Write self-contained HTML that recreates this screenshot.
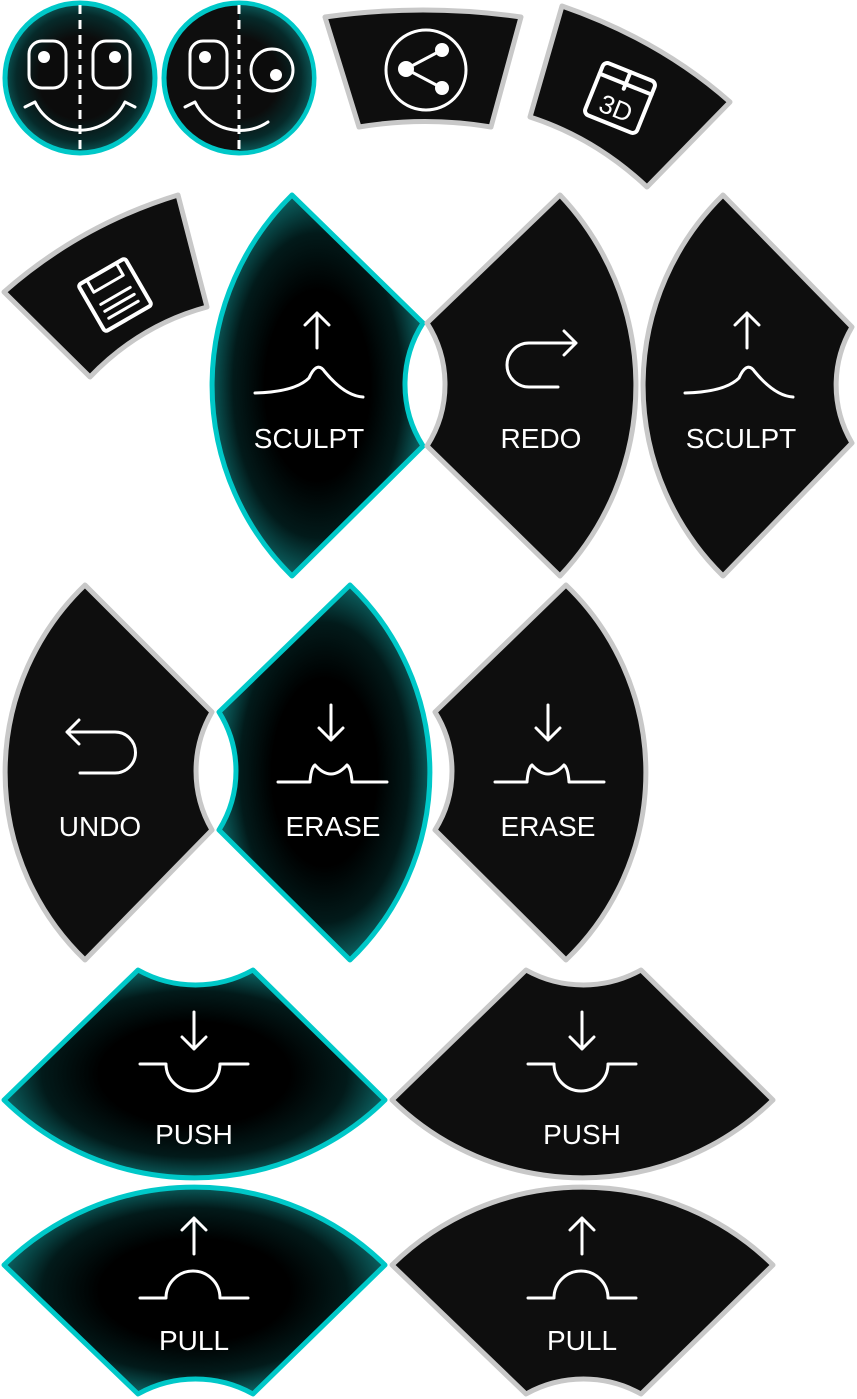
<!DOCTYPE html>
<html><head><meta charset="utf-8"><style>html,body{margin:0;padding:0;background:#fff}svg{display:block}</style></head>
<body>
<svg width="857" height="1399" viewBox="0 0 857 1399" xmlns="http://www.w3.org/2000/svg">
<defs>
<radialGradient id="hl" cx="0.5" cy="0.5" r="0.5">
<stop offset="0.5" stop-color="#000"/><stop offset="0.8" stop-color="#021a1a"/><stop offset="1" stop-color="#0a5a5a"/>
</radialGradient>
<radialGradient id="fc" cx="0.5" cy="0.5" r="0.5">
<stop offset="0.55" stop-color="#0c0c0c"/><stop offset="0.85" stop-color="#062a2a"/><stop offset="1" stop-color="#0b5252"/>
</radialGradient>
<clipPath id="rh"><rect x="239" y="0" width="90" height="160"/></clipPath>
</defs>
<g stroke-linejoin="round" stroke-width="5">
<circle cx="80" cy="78" r="75" fill="url(#fc)" stroke="#00c8c8"/>
<circle cx="239" cy="78" r="75" fill="#0e0e0e" stroke="#00c8c8"/>
<circle cx="239" cy="78" r="73" fill="url(#fc)" stroke="none" clip-path="url(#rh)"/>
<path d="M325,17 Q423,3 521,17 L491,127 Q425,116 359,127 Z" fill="#0e0e0e" stroke="#c8c8c8"/>
<path d="M562,6 Q660,40 730,102 L647,187 Q595,138 530,117 Z" fill="#0e0e0e" stroke="#c8c8c8"/>
<path d="M4,292 Q80,225 178,195 L207,307 Q140,325 90,377 Z" fill="#0e0e0e" stroke="#c8c8c8"/>
<path d="M292,195 L423,323 A114,114 0 0 0 423,446 L292,576 A267,267 0 0 1 292,195 Z" fill="url(#hl)" stroke="#00c8c8"/>
<path d="M560,195 A277,277 0 0 1 560,576 L427,446 A114,114 0 0 0 427,323 Z" fill="#0e0e0e" stroke="#c8c8c8"/>
<path d="M723,195 L852,327 A114,114 0 0 0 852,443 L723,576 A267,267 0 0 1 723,195 Z" fill="#0e0e0e" stroke="#c8c8c8"/>
<path d="M85,585 L212,712 A117,117 0 0 0 212,830 L85,960 A260,260 0 0 1 85,585 Z" fill="#0e0e0e" stroke="#c8c8c8"/>
<path d="M350,585 A260,260 0 0 1 350,960 L219,830 A111,111 0 0 0 219,712 Z" fill="url(#hl)" stroke="#00c8c8"/>
<path d="M566,585 A260,260 0 0 1 566,960 L435,830 A111,111 0 0 0 435,712 Z" fill="#0e0e0e" stroke="#c8c8c8"/>
<path d="M138,970 A118,118 0 0 0 253,970 L385,1100 A272,272 0 0 1 4,1100 Z" fill="url(#hl)" stroke="#00c8c8"/>
<path d="M526,970 A118,118 0 0 0 641,970 L773,1100 A272,272 0 0 1 392,1100 Z" fill="#0e0e0e" stroke="#c8c8c8"/>
<path d="M4,1265 A272,272 0 0 1 385,1265 L253,1394 A118,118 0 0 0 138,1394 Z" fill="url(#hl)" stroke="#00c8c8"/>
<path d="M392,1265 A272,272 0 0 1 773,1265 L641,1394 A118,118 0 0 0 526,1394 Z" fill="#0e0e0e" stroke="#c8c8c8"/>
</g>
<g fill="none" stroke="#fff" stroke-width="3" stroke-linecap="round" stroke-linejoin="round">
<line x1="80" y1="5" x2="80" y2="153" stroke-dasharray="9 6" stroke-linecap="butt"/>
<line x1="239" y1="5" x2="239" y2="153" stroke-dasharray="9 6" stroke-linecap="butt"/>
<rect x="29" y="41" width="37" height="47" rx="13"/><rect x="93" y="41" width="37" height="47" rx="13"/>
<path d="M25,107 L35,102 A50,50 0 0 0 125,102 L135,107"/>
<rect x="190" y="41" width="37" height="47" rx="13"/><circle cx="272" cy="70" r="21"/>
<path d="M185,107 L195,102 A50,50 0 0 0 268,122"/>
<circle cx="426" cy="70" r="40"/>
<path d="M406,69 L442,50 M406,69 L442,88"/>
<path d="M317,313 V348 M305,325 L317,313 L329,325"/>
<path d="M255,393 Q295,392 309,378 Q317,360 325,372 Q345,396 363,397"/>
<path d="M747,313 V348 M735,325 L747,313 L759,325"/>
<path d="M685,393 Q725,392 739,378 Q747,360 755,372 Q775,396 793,397"/>
<path d="M558,387 H529 A22,22 0 0 1 529,343 H576 M564,331 L576,343 L564,355"/>
<path d="M80,773 H115 A20,20 0 0 0 115,732 H67 M79,720 L67,732 L79,744"/>
<path d="M331,705 V740 M319,728 L331,740 L343,728"/>
<path d="M278,782 H310 Q311,768 315,765 Q331,783 347,765 Q351,768 352,782 H387"/>
<path d="M548,705 V740 M536,728 L548,740 L560,728"/>
<path d="M495,782 H527 Q528,768 532,765 Q548,783 564,765 Q568,768 569,782 H604"/>
<path d="M194,1012 V1049 M182,1037 L194,1049 L206,1037"/>
<path d="M140,1064 H166 A27,27 0 0 0 220,1064 H248"/>
<path d="M582,1012 V1049 M570,1037 L582,1049 L594,1037"/>
<path d="M528,1064 H554 A27,27 0 0 0 608,1064 H636"/>
<path d="M194,1254 V1218 M182,1230 L194,1218 L206,1230"/>
<path d="M140,1298 H166 A27,27 0 0 1 220,1298 H248"/>
<path d="M582,1254 V1218 M570,1230 L582,1218 L594,1230"/>
<path d="M528,1298 H554 A27,27 0 0 1 608,1298 H636"/>
<g transform="rotate(22 620 98)"><rect x="592" y="70" width="56" height="56" rx="5" stroke-width="4"/><path d="M592,83 H648 M620,70 V88" stroke-width="4"/></g>
<g transform="rotate(-30 115 295)"><rect x="88" y="268" width="54" height="54" rx="3" stroke-width="4"/><path d="M98,268 V282 H132 V268 M98,296 H132 M98,304 H132 M98,312 H132"/></g>
</g>
<g fill="#fff">
<circle cx="44" cy="57" r="6"/><circle cx="115" cy="57" r="6"/><circle cx="205" cy="57" r="6"/><circle cx="276" cy="75" r="6"/>
<circle cx="406" cy="69" r="8"/><circle cx="442" cy="50" r="7"/><circle cx="442" cy="88" r="7"/>
</g>
<text x="620" y="118" transform="rotate(22 620 98)" fill="#fff" font-family="Liberation Sans, sans-serif" font-size="26" text-anchor="middle">3D</text>
<g fill="#fff" font-family="Liberation Sans, sans-serif" font-size="28" text-anchor="middle">
<text x="309" y="448">SCULPT</text>
<text x="541" y="448">REDO</text>
<text x="741" y="448">SCULPT</text>
<text x="100" y="836">UNDO</text>
<text x="333" y="836">ERASE</text>
<text x="548" y="836">ERASE</text>
<text x="194" y="1144">PUSH</text>
<text x="582" y="1144">PUSH</text>
<text x="194" y="1350">PULL</text>
<text x="582" y="1350">PULL</text>
</g>
</svg>
</body></html>
